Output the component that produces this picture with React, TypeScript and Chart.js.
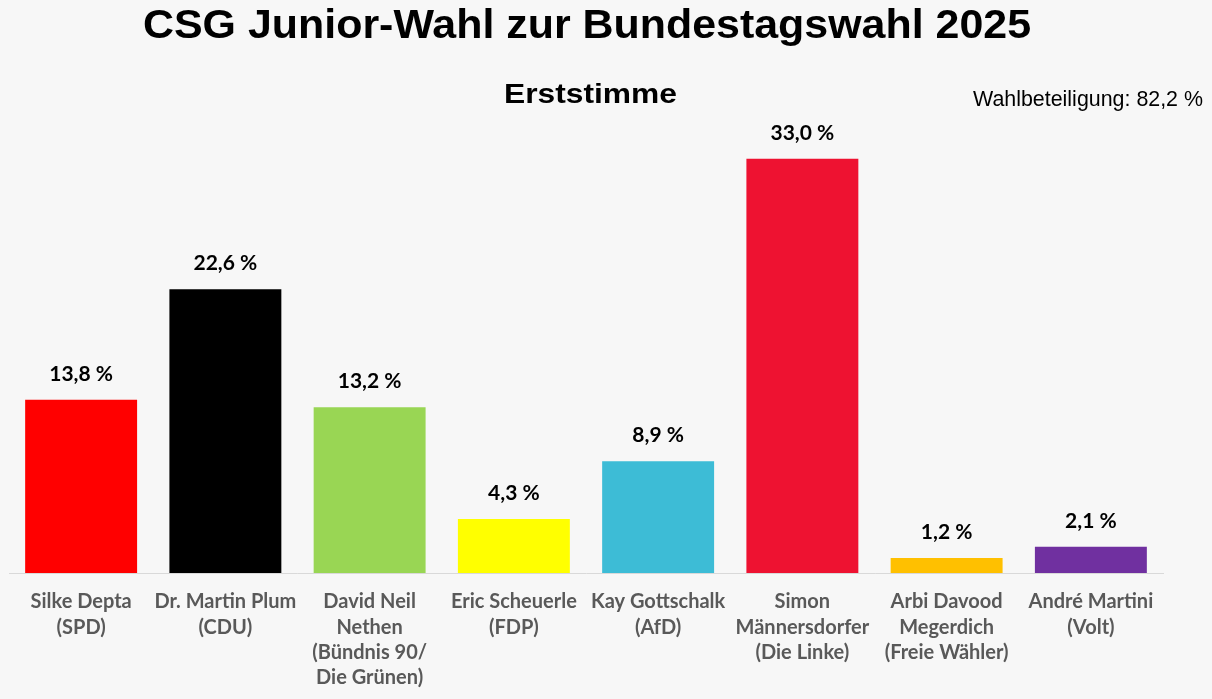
import React, { useEffect, useRef } from "react";
import { Chart, registerables } from "chart.js";

Chart.register(...registerables);

const TITLE = "CSG Junior-Wahl zur Bundestagswahl 2025";
const SUBTITLE = "Erststimme";
const TURNOUT = "Wahlbeteiligung: 82,2 %";

const candidates: string[][] = [
  ["Silke Depta", "(SPD)"],
  ["Dr. Martin Plum", "(CDU)"],
  ["David Neil", "Nethen", "(Bündnis 90/", "Die Grünen)"],
  ["Eric Scheuerle", "(FDP)"],
  ["Kay Gottschalk", "(AfD)"],
  ["Simon", "Männersdorfer", "(Die Linke)"],
  ["Arbi Davood", "Megerdich", "(Freie Wähler)"],
  ["André Martini", "(Volt)"],
];

const shares: number[] = [13.8, 22.6, 13.2, 4.3, 8.9, 33.0, 1.2, 2.1];

const partyColors: string[] = [
  "#ff0000",
  "#000000",
  "#99d654",
  "#ffff00",
  "#3dbcd6",
  "#ee1231",
  "#ffc000",
  "#7030a0",
];

const fmt = (v: number) => v.toFixed(1).replace(".", ",") + " %";

function drawFit(
  ctx: CanvasRenderingContext2D,
  text: string,
  font: string,
  cx: number,
  baseline: number,
  width: number
) {
  ctx.save();
  ctx.font = font;
  ctx.fillStyle = "#000";
  ctx.textAlign = "center";
  ctx.textBaseline = "alphabetic";
  const w = ctx.measureText(text).width;
  ctx.translate(cx, baseline);
  ctx.scale(width / w, 1);
  ctx.fillText(text, 0, 0);
  ctx.restore();
}

const textPlugin = {
  id: "texts",
  beforeDraw(chart: any) {
    const ctx = chart.ctx as CanvasRenderingContext2D;
    ctx.save();
    ctx.fillStyle = "#f7f7f7";
    ctx.fillRect(0, 0, chart.width, chart.height);
    ctx.restore();
  },
  afterDraw(chart: any) {
    const ctx = chart.ctx as CanvasRenderingContext2D;
    drawFit(ctx, TITLE, "bold 40px 'Liberation Sans', Arial", 587, 38, 888);
    drawFit(ctx, SUBTITLE, "bold 27px 'Liberation Sans', Arial", 590.5, 103, 173);
    drawFit(ctx, TURNOUT, "22px 'Liberation Sans', Arial", 1088, 106, 230);
  },
  afterDatasetsDraw(chart: any) {
    const ctx = chart.ctx as CanvasRenderingContext2D;
    const meta = chart.getDatasetMeta(0);
    ctx.save();
    ctx.font = "bold 21px Lato, 'Open Sans', sans-serif";
    ctx.fillStyle = "#000";
    ctx.textAlign = "center";
    ctx.textBaseline = "alphabetic";
    meta.data.forEach((bar: any, i: number) => {
      ctx.fillText(fmt(shares[i]), bar.x, bar.y - 19);
    });
    ctx.restore();
  },
};

export default function App() {
  const ref = useRef<HTMLCanvasElement | null>(null);

  useEffect(() => {
    if (!ref.current) return;
    const chart = new Chart(ref.current, {
      type: "bar",
      data: {
        labels: candidates,
        datasets: [
          {
            data: shares,
            backgroundColor: partyColors,
            borderWidth: 0,
            categoryPercentage: 1,
            barPercentage: 0.776,
          },
        ],
      },
      options: {
        animation: false,
        responsive: true,
        maintainAspectRatio: false,
        layout: { padding: { left: 9, right: 49, top: 121, bottom: 0 } },
        plugins: {
          legend: { display: false },
          tooltip: { enabled: false },
          title: { display: false },
        },
        scales: {
          x: {
            grid: { display: false, drawTicks: false },
            border: { display: true, color: "#d9d9d9", width: 1 },
            ticks: {
              autoSkip: false,
              maxRotation: 0,
              minRotation: 0,
              padding: 16,
              color: "#595959",
              font: { family: "Lato, 'Open Sans', sans-serif", size: 20, weight: "bold", lineHeight: 1.27 },
            },
            afterFit: (scale: any) => {
              scale.height = 126;
            },
          },
          y: {
            display: false,
            min: 0,
            max: 36,
          },
        },
      },
      plugins: [textPlugin],
    });
    return () => chart.destroy();
  }, []);

  return (
    <div
      style={{
        position: "fixed",
        left: 0,
        top: 0,
        width: 1212,
        height: 699,
        background: "#f7f7f7",
      }}
    >
      <canvas ref={ref} />
    </div>
  );
}
